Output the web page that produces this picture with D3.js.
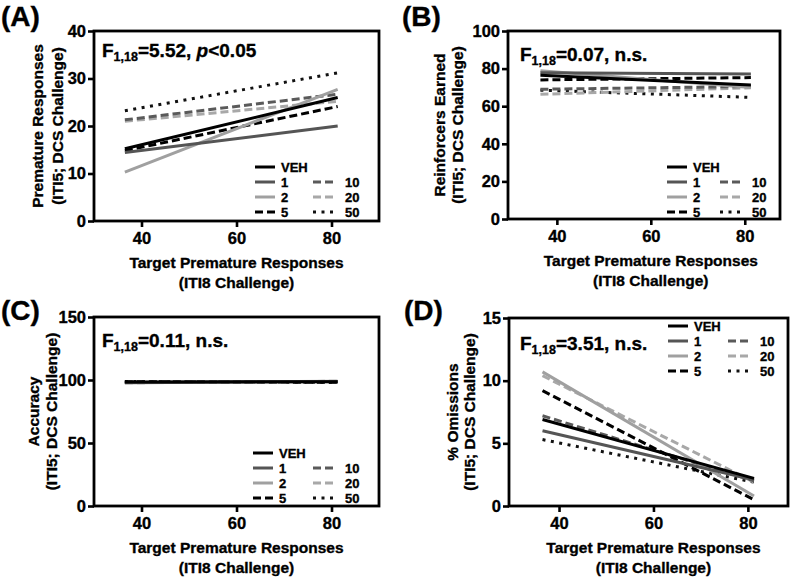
<!DOCTYPE html>
<html>
<head>
<meta charset="utf-8">
<script src="https://cdn.jsdelivr.net/npm/d3@7"></script>
<style>
  body { margin: 0; background: #fff; }
  svg { display: block; }
  text { font-family: "Liberation Sans", Arial, sans-serif; font-weight: bold; fill: #000; stroke: #000; stroke-width: 0.35px; }
</style>
</head>
<body>
<svg id="chart" width="800" height="579"></svg>
<script>
// doses of DCS (VEH = vehicle)
const groups = ['VEH', '1', '2', '5', '10', '20', '50'];
// regression lines run over the ITI8 target premature responses range
const targetRange = [36.5, 81.3];
const xTicks = [40, 60, 80];

// fitted values at the two ends of targetRange, one pair per group
const premature   = [[15.2, 26.0], [14.4, 20.0], [10.3, 27.7], [14.8, 24.1], [21.3, 26.7], [21.0, 25.2], [23.2, 31.2]];
const reinforcers = [[76.5, 71.3], [77.8, 77.1], [78.8, 70.0], [74.0, 75.2], [69.0, 70.5], [66.3, 69.8], [68.5, 64.7]];
const accuracy    = [[98.4, 98.6], [97.9, 98.8], [98.1, 99.0], [98.7, 98.2], [98.3, 98.6], [97.8, 99.0], [98.9, 98.1]];
const omissions   = [[6.9, 2.2], [6.0, 2.1], [10.7, 0.8], [9.2, 0.5], [7.2, 2.0], [10.4, 1.9], [5.3, 1.9]];

const yTicksA = [0, 10, 20, 30, 40];
const yTicksB = [0, 20, 40, 60, 80, 100];
const yTicksC = [0, 50, 100, 150];
const yTicksD = [0, 5, 10, 15];

const colors = ['#000', '#555', '#a0a0a0', '#000', '#5a5a5a', '#a8a8a8', '#111'];
const dashes = [null, null, null, '8,4', '8,4', '8,4', '3,5.5'];

const panels = [
  { tag: '(A)', data: premature, yTicks: yTicksA, yTitle: 'Premature Responses', stat: ['5.52, ', 'p', '<0.05'],
    left: 94, right: 379, top: 31, bottom: 221, xDom: [30, 90], tagX: 1, tagY: 26,
    t1: 43, t2: 63, statX: 102, statY: 57, leg: { x: 255, y: 167, dy: 15, c2: 58 } },
  { tag: '(B)', data: reinforcers, yTicks: yTicksB, yTitle: 'Reinforcers Earned', stat: ['0.07, n.s.'],
    left: 508, right: 780, top: 31, bottom: 219, xDom: [29.6, 87.5], tagX: 402, tagY: 26,
    t1: 445, t2: 463, statX: 520, statY: 61, leg: { x: 667, y: 167, dy: 15, c2: 53 } },
  { tag: '(C)', data: accuracy, yTicks: yTicksC, yTitle: 'Accuracy', stat: ['0.11, n.s.'],
    left: 94, right: 379, top: 317, bottom: 506, xDom: [30, 90], tagX: 1, tagY: 320,
    t1: 39, t2: 57, statX: 102, statY: 347, leg: { x: 253, y: 453, dy: 15, c2: 60 } },
  { tag: '(D)', data: omissions, yTicks: yTicksD, yTitle: '% Omissions', stat: ['3.51, n.s.'],
    left: 509, right: 788, top: 318, bottom: 506, xDom: [29.4, 88.5], tagX: 404, tagY: 320,
    t1: 458, t2: 475, statX: 520, statY: 350, leg: { x: 668, y: 326, dy: 15, c2: 60 } }
];

const svg = d3.select('#chart');

panels.forEach(p => {
  const g = svg.append('g');
  const yMax = p.yTicks[p.yTicks.length - 1];
  const x = d3.scaleLinear().domain(p.xDom).range([p.left, p.right]);
  const y = d3.scaleLinear().domain([0, yMax]).range([p.bottom, p.top]);

  // lines, VEH on top
  const line = d3.line().x(d => x(d[0])).y(d => y(d[1]));
  d3.range(groups.length - 1, -1, -1).forEach(i => {
    const pts = [[targetRange[0], p.data[i][0]], [targetRange[1], p.data[i][1]]];
    g.append('path')
      .attr('d', line(pts))
      .attr('fill', 'none')
      .attr('stroke', colors[i])
      .attr('stroke-width', 3)
      .attr('stroke-dasharray', dashes[i]);
  });

  // frame
  g.append('rect')
    .attr('x', p.left).attr('y', p.top)
    .attr('width', p.right - p.left).attr('height', p.bottom - p.top)
    .attr('fill', 'none').attr('stroke', '#000').attr('stroke-width', 2.8);

  const yAxis = g.append('g')
    .attr('transform', `translate(${p.left},0)`)
    .call(d3.axisLeft(y).tickValues(p.yTicks).tickSize(6).tickPadding(2));
  const xAxis = g.append('g')
    .attr('transform', `translate(0,${p.bottom})`)
    .call(d3.axisBottom(x).tickValues(xTicks).tickSize(6).tickPadding(5));
  [yAxis, xAxis].forEach(a => {
    a.select('.domain').remove();
    a.selectAll('line').attr('stroke', '#000').attr('stroke-width', 2.6);
    a.selectAll('text').style('font-size', '16.5px').attr('fill', '#000');
  });

  // panel tag
  g.append('text').attr('x', p.tagX).attr('y', p.tagY).style('font-size', '28px').text(p.tag);

  // axis titles
  const xc = x(60);
  g.append('text').attr('x', xc).attr('y', p.bottom + 47).attr('text-anchor', 'middle')
    .style('font-size', '15.5px').text('Target Premature Responses');
  g.append('text').attr('x', xc).attr('y', p.bottom + 67).attr('text-anchor', 'middle')
    .style('font-size', '15.5px').text('(ITI8 Challenge)');
  const yc = (p.top + p.bottom) / 2;
  g.append('text').attr('transform', `translate(${p.t1},${yc}) rotate(-90)`).attr('text-anchor', 'middle')
    .style('font-size', '15.5px').text(p.yTitle);
  g.append('text').attr('transform', `translate(${p.t2},${yc}) rotate(-90)`).attr('text-anchor', 'middle')
    .style('font-size', '15.5px').text('(ITI5; DCS Challenge)');

  // statistic
  const st = g.append('text').attr('x', p.statX).attr('y', p.statY).style('font-size', '19px');
  st.append('tspan').text('F');
  st.append('tspan').attr('dy', 4).style('font-size', '12.5px').text('1,18');
  st.append('tspan').attr('dy', -4).text('=' + p.stat[0]);
  if (p.stat.length > 1) {
    st.append('tspan').style('font-style', 'italic').text(p.stat[1]);
    st.append('tspan').text(p.stat[2]);
  }

  // legend: VEH on its own row, then 1/2/5 beside 10/20/50
  const lg = g.append('g');
  const slots = [[0, 0], [0, 1], [0, 2], [0, 3], [1, 1], [1, 2], [1, 3]];
  groups.forEach((name, i) => {
    const sx = p.leg.x + slots[i][0] * p.leg.c2;
    const sy = p.leg.y + slots[i][1] * p.leg.dy;
    lg.append('line')
      .attr('x1', sx).attr('x2', sx + 20).attr('y1', sy).attr('y2', sy)
      .attr('stroke', colors[i]).attr('stroke-width', 3)
      .attr('stroke-dasharray', dashes[i]);
    lg.append('text').attr('x', sx + (i >= 4 ? 32 : 26)).attr('y', sy + 5)
      .style('font-size', '13px').text(name);
  });
});
</script>
</body>
</html>
